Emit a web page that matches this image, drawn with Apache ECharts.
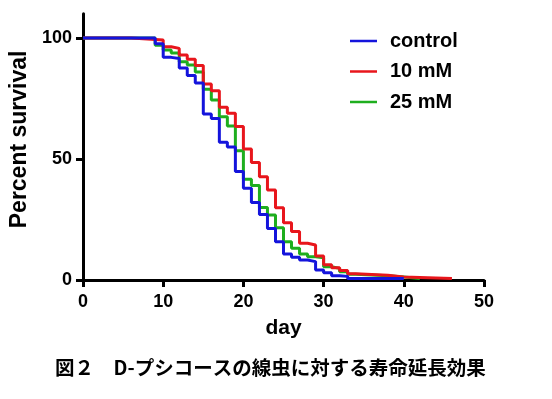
<!DOCTYPE html>
<html>
<head>
<meta charset="utf-8">
<script src="https://cdn.jsdelivr.net/npm/echarts@6/dist/echarts.min.js"></script>
<style>
  html, body { margin: 0; padding: 0; background: #fff; }
  #chart { width: 552px; height: 399px; }
</style>
</head>
<body>
<div id="chart"></div>
<script>
// survival curves, [day, percent] (value holds until next day)
var control = [
    [0, 100], [9, 97.6], [10, 92], [11, 91.5], [12, 87.6], [13, 84.5], [14, 81.4],
    [15, 68.6], [16, 66.7], [17, 56.9], [18, 55], [19, 44.8], [20, 37.9], [21, 32],
    [22, 27.1], [23, 21.3], [24, 15.8], [25, 10.7], [26, 9.4], [27, 8.3], [28, 7.6],
    [29, 4.1], [30, 3.0], [31, 1.8], [32, 1.5], [33, 0.6], [40, 0.6]
];
var mM10 = [
    [0, 100], [6, 99.2], [10, 96.4], [11, 95.7], [12, 93], [13, 91.2], [14, 88.6],
    [15, 81], [16, 78.2], [17, 71.4], [18, 68.9], [19, 63.4], [20, 54.1], [21, 48.6],
    [22, 42.7], [23, 37.2], [24, 29.9], [25, 23.7], [26, 20], [27, 15.2], [28, 14.5],
    [29, 9.9], [30, 6.3], [31, 5.1], [32, 3.9], [33, 2.6], [34, 2.0], [38, 1.2],
    [40, 0.6], [46, 0.6]
];
var mM25 = [
    [0, 100], [9, 97], [10, 95], [11, 93.8], [12, 90.2], [13, 88.8], [14, 86],
    [15, 78.8], [16, 74.4], [17, 67.5], [18, 63.6], [19, 53.4], [20, 41.6], [21, 39],
    [22, 30], [23, 26.9], [24, 21.6], [25, 15.8], [26, 13.1], [27, 10.7], [28, 9.6],
    [29, 9.2], [30, 5.5], [31, 4.8], [32, 3.4], [33, 2.4], [34, 1.8], [38, 1.2],
    [40, 0.6], [42, 0.6]
];
var names = ['control', '10 mM', '25 mM'];
var colors = ['#1414dc', '#e8161c', '#1eae1e'];
var yTicks = [0, 50, 100];

var font = "Arial, 'Liberation Sans', sans-serif";
var myChart = echarts.init(document.getElementById('chart'));

function stepSeries(i, data, z) {
    return {
        name: names[i],
        type: 'line',
        step: 'end',
        data: data,
        symbol: 'none',
        z: z,
        lineStyle: {color: colors[i], width: 3},
        itemStyle: {color: colors[i]}
    };
}

var option = {
    animation: false,
    backgroundColor: '#fff',
    title: {
        text: '図２　D-プシコースの線虫に対する寿命延長効果',
        left: 50,
        top: 353,
        textStyle: {
            fontFamily: 'Noto Sans CJK JP',
            fontSize: 19.5,
            fontWeight: 'bold',
            color: '#000'
        }
    },
    legend: {
        orient: 'vertical',
        left: 345,
        top: 26,
        itemWidth: 27,
        itemHeight: 2.5,
        itemGap: 10.5,
        icon: 'rect',
        data: names,
        textStyle: {
            fontFamily: font,
            fontSize: 20,
            fontWeight: 'bold',
            color: '#000',
            lineHeight: 20,
            padding: [0, 0, 0, 8]
        }
    },
    grid: {left: 83, right: 68, top: 13.8, bottom: 119},
    xAxis: {
        type: 'value',
        min: 0,
        max: 50,
        interval: 10,
        name: 'day',
        nameLocation: 'middle',
        nameGap: 38,
        nameTextStyle: {fontFamily: font, fontSize: 21, fontWeight: 'bold', color: '#000'},
        axisLine: {lineStyle: {color: '#000', width: 3}},
        axisTick: {length: 7, lineStyle: {color: '#000', width: 3}},
        axisLabel: {margin: 13, fontFamily: font, fontSize: 18, fontWeight: 'bold', color: '#000'},
        splitLine: {show: false}
    },
    yAxis: {
        type: 'value',
        min: 0,
        max: 110,
        interval: 50,
        name: 'Percent survival',
        nameLocation: 'middle',
        nameRotate: 90,
        nameGap: 52,
        nameTextStyle: {fontFamily: font, fontSize: 23, fontWeight: 'bold', color: '#000', padding: [0, 0, 0, 15]},
        axisLine: {show: true, lineStyle: {color: '#000', width: 3}},
        axisTick: {show: true, length: 7, customValues: yTicks, lineStyle: {color: '#000', width: 3}},
        axisLabel: {margin: 11, customValues: yTicks, fontFamily: font, fontSize: 18, fontWeight: 'bold', color: '#000'},
        splitLine: {show: false}
    },
    series: [
        stepSeries(0, control, 4),
        stepSeries(1, mM10, 3),
        stepSeries(2, mM25, 2)
    ]
};

if (option && typeof option === "object") {
    myChart.setOption(option, true);
}
</script>
</body>
</html>
